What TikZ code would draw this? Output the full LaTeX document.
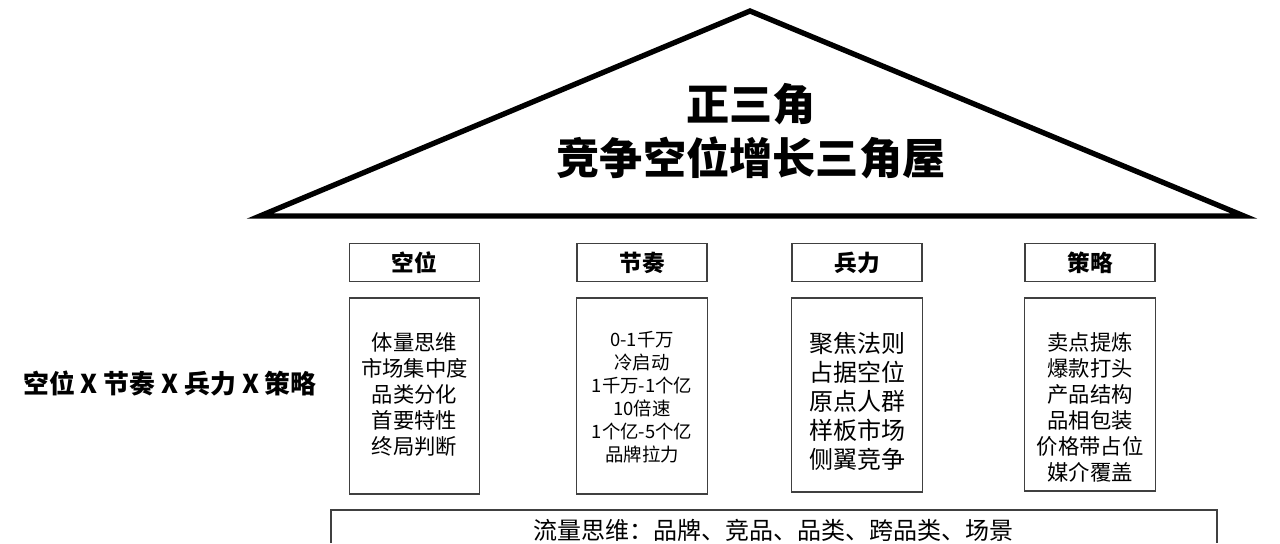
\documentclass[tikz,border=0pt]{standalone}
\usepackage{fontspec}
\setmainfont{Noto Sans CJK SC}
\begin{document}
\begin{tikzpicture}[
    x=0.75pt,
    y=-0.75pt,
    roof/.style={line width=4pt, line join=miter},
    frame/.style={draw=black!75, line width=0.9pt},
    head/.style={frame, minimum width=97.5pt, minimum height=29pt, inner sep=0pt, font=\bfseries\fontsize{17}{20}\selectfont},
    pillar/.style={frame, minimum width=98pt, inner sep=0pt},
    items/.style={align=center, inner sep=0pt}
  ]
    \useasboundingbox (0,0) rectangle (1280,543);
    \coordinate (apex) at (750,11);
    \coordinate (eaveL) at (260,216);
    \coordinate (eaveR) at (1244,216);
    \draw[roof] (eaveL) -- (apex) -- (eaveR) -- cycle;
    \node[align=center, font=\bfseries\fontsize{32.4}{40.5}\selectfont] (title) at (751,131) {正三角\\竞争空位增长三角屋};
    \node[font=\bfseries\fontsize{19.4}{22}\selectfont] (formula) at (170,383) {空位 X 节奏 X 兵力 X 策略};
    \node[head] (kw) at (414.5,262.5) {空位};
    \node[head] (jz) at (642,262.5) {节奏};
    \node[head] (bl) at (857,262.5) {兵力};
    \node[head] (cl) at (1090,262.5) {策略};
    \node[pillar, minimum height=147pt] (kwbox) at (414.5,396) {};
    \node[pillar, minimum height=147pt] (jzbox) at (642,396) {};
    \node[pillar, minimum height=145.5pt] (blbox) at (857,395) {};
    \node[pillar, minimum height=144.75pt] (clbox) at (1090,394.5) {};
    \node[items, font=\fontsize{16}{19.5}\selectfont] (kwtxt) at (414.5,394) {体量思维\\市场集中度\\品类分化\\首要特性\\终局判断};
    \node[items, font=\fontsize{13.8}{17.25}\selectfont] (jztxt) at (642,397) {0-1千万\\冷启动\\1千万-1个亿\\10倍速\\1个亿-5个亿\\品牌拉力};
    \node[items, font=\fontsize{18}{21.75}\selectfont] (bltxt) at (857,401) {聚焦法则\\占据空位\\原点人群\\样板市场\\侧翼竞争};
    \node[items, font=\fontsize{16}{19.5}\selectfont] (cltxt) at (1090,407) {卖点提炼\\爆款打头\\产品结构\\品相包装\\价格带占位\\媒介覆盖};
    \draw[frame] (331,543) -- (331,510) -- (1217,510) -- (1217,543);
    \node[font=\fontsize{18}{20}\selectfont] (flow) at (773.5,530) {流量思维：品牌、竞品、品类、跨品类、场景};
  \end{tikzpicture}
\end{document}
